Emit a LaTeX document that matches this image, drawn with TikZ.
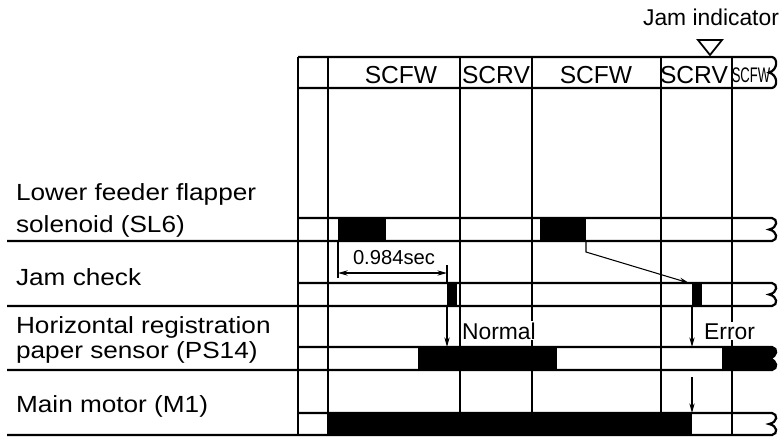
\documentclass[tikz,border=0pt]{standalone}
\usepackage{fontspec}
\usepackage{graphicx}
\setmainfont{Liberation Sans}
\newfontfamily\labfont[FakeStretch=1.12]{Liberation Sans}
\usetikzlibrary{arrows.meta}

\tikzset{
  chart/.style={line width=1.25pt},
  fine/.style={line width=0.6pt},
  sigarrow/.style={fine, -{Stealth[length=5.5pt,width=3pt]}},
  dimarrow/.style={fine, {Stealth[length=5.5pt,width=3pt]}-{Stealth[length=5.5pt,width=3pt]}},
  hdr/.style={font=\fontsize{14}{16}\selectfont, anchor=base, inner sep=0pt},
  rowlab/.style={font=\labfont\fontsize{13.3}{15}\selectfont, anchor=base west, inner sep=0pt},
  note/.style={font=\fontsize{13}{15}\selectfont, anchor=base west, fill=white, inner sep=0.6pt}
}

% wavy break at the right end of a row: x, top y, bottom y
\newcommand{\brk}[3]{.. controls ({#1+6},{#2+1}) and ({#1+6},{#2+0.42*(#3-#2)}) .. ({#1-3},{0.5*(#2+#3)}) .. controls ({#1+6},{#3-0.42*(#3-#2)}) and ({#1+6},{#3-1}) .. (#1,#3)}

\begin{document}
\begin{tikzpicture}[x=0.02cm, y=-0.02cm, chart]
  \useasboundingbox (0,0) rectangle (780,437);

  % -- signal levels --
  \fill (338,218) rectangle (386,241);
  \fill (540,218) rectangle (586,241);
  \fill (447,283) rectangle (457,306);
  \fill (692,283) rectangle (702,306);
  \fill (418,347) rectangle (557,370);
  \fill (722,347) -- (772,347) \brk{772}{347}{370} -- (722,370) -- cycle;
  \fill (328,413) rectangle (692,435);

  % -- table rows --
  \draw (298,57) -- (772,57) \brk{772}{57}{88} -- (298,88);
  \draw (298,218) -- (772,218) \brk{772}{218}{241} -- (7,241);
  \draw (298,283) -- (772,283) \brk{772}{283}{306} -- (7,306);
  \draw (298,347) -- (772,347) \brk{772}{347}{370} -- (7,370);
  \draw (298,413) -- (772,413) \brk{772}{413}{435} -- (7,435);

  % -- step columns --
  \foreach \xx in {298,328,460,532,661,732}
    \draw (\xx,57) -- (\xx,435);

  % -- header --
  \node[hdr] (fw1) at (401,83) {SCFW};
  \node[hdr] (rv1) at (496,83) {SCRV};
  \node[hdr] (fw2) at (596,83) {SCFW};
  \node[hdr] (rv2) at (694,83) {SCRV};
  \node[hdr, font=\fontsize{12}{14}\selectfont] (fw3) at (751,82) {\scalebox{0.62}[1]{SCFW}};

  % Jam indicator
  \node[hdr, font=\fontsize{13}{15}\selectfont] (jamind) at (711,25) {Jam indicator};
  \draw[line width=1pt] (698,40) -- (722,40) -- (710,55) -- cycle;

  % -- row labels --
  \node[rowlab] (sl6a) at (15,200) {Lower feeder flapper};
  \node[rowlab] (sl6b) at (15,232) {solenoid (SL6)};
  \node[rowlab] (jchk) at (15,285) {Jam check};
  \node[rowlab] (ps14a) at (15,333) {Horizontal registration};
  \node[rowlab] (ps14b) at (15,358) {paper sensor (PS14)};
  \node[rowlab] (m1) at (15,412) {Main motor (M1)};

  % -- timing marks --
  \coordinate (slon) at (338,241);
  \coordinate (jcon) at (447,283);
  \coordinate (d1) at (338,273);
  \coordinate (d2) at (447,273);
  \draw[fine] (slon) -- (338,278);
  \draw[fine] (447,265) -- (jcon);
  \draw[dimarrow] (d1) -- (d2);
  \node[hdr, font=\fontsize{11.5}{13}\selectfont] (dimlab) at (394,264) {0.984sec};

  \coordinate (sloff) at (586,241);
  \coordinate (jerr) at (689,283);
  \draw[sigarrow] (sloff) -- (586,252) -- (jerr);

  \coordinate (jc1) at (447,306);
  \coordinate (ps1) at (447,347);
  \coordinate (jc2) at (692,307);
  \coordinate (ps2) at (692,347);
  \coordinate (m1a) at (692,377);
  \coordinate (m1b) at (692,413);
  \draw[sigarrow] (jc1) -- (ps1);
  \draw[sigarrow] (jc2) -- (ps2);
  \draw[sigarrow] (m1a) -- (m1b);
  \node[note] (normal) at (460,339) {Normal};
  \node[note] (error) at (702,339) {Error};

\end{tikzpicture}
\end{document}
